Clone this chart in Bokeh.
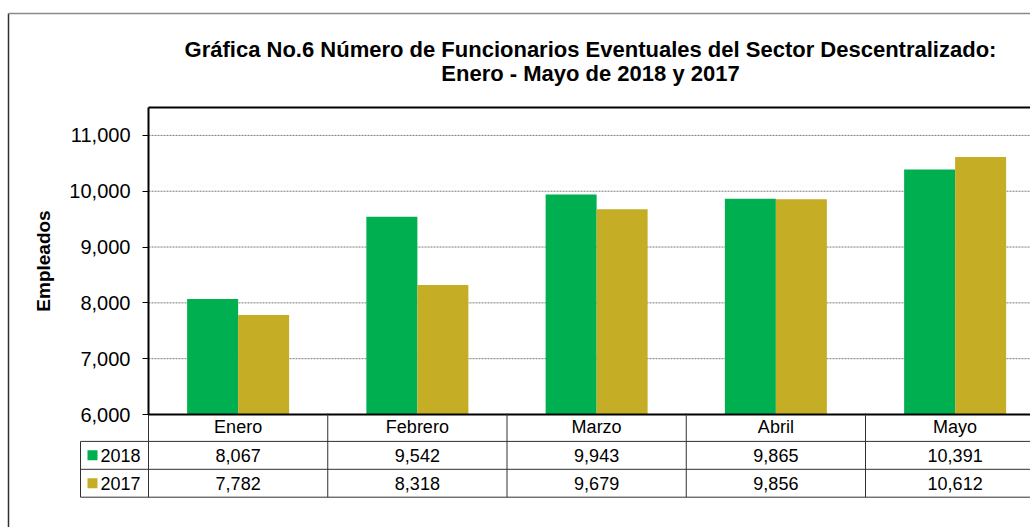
import numpy as np
from bokeh.plotting import figure
from bokeh.models import (Range1d, FixedTicker, NumeralTickFormatter, LinearAxis, Label)
from bokeh.embed import file_html
from bokeh.resources import INLINE
from bokeh.core.properties import value

# ---- data ----
months = ["Enero", "Febrero", "Marzo", "Abril", "Mayo"]
series_names = ["2018", "2017"]
values_2018 = [8067, 9542, 9943, 9865, 10391]
values_2017 = [7782, 8318, 9679, 9856, 10612]
y_ticks = [6000, 7000, 8000, 9000, 10000, 11000]
y_top = 11500
title_line1 = "Gráfica No.6 Número de Funcionarios Eventuales del Sector Descentralizado:"
title_line2 = "Enero - Mayo de 2018 y 2017"
y_label = "Empleados"

# ---- style / layout ----
GREEN = "#00B050"
GOLD = "#C5AD25"
FONT = "Liberation Sans"
W, H = 1030, 527
PLOT_LEFT = 148          # pixel x of value axis
CAT_PX = 179.25          # pixels per category
PLOT_TOP_PX, PLOT_BASE_PX = 107, 414
y_base = y_ticks[0]
PX_PER_UNIT = (PLOT_BASE_PX - PLOT_TOP_PX) / (y_top - y_base)


def px_x(px):
    return (px - PLOT_LEFT) / CAT_PX


def px_y(py):
    return y_base + (PLOT_BASE_PX - py) / PX_PER_UNIT


# table rows: boundaries 3 (top) .. 0 (bottom)
ROW_TOP_PX, ROW_PX = 413, 27.9


def px_row(py):
    return 3 - (py - ROW_TOP_PX) / ROW_PX


x_start, x_end = px_x(0), px_x(W)

p = figure(width=W, height=H, x_range=Range1d(x_start, x_end), y_range=Range1d(px_y(H), px_y(0)),
           output_backend="svg", toolbar_location=None, x_axis_location=None, y_axis_location=None,
           min_border=0, outline_line_color=None)
p.extra_y_ranges = {"table": Range1d(px_row(H), px_row(0))}
p.grid.visible = False

n = len(months)
idx = np.arange(n)
bar_w = 0.2845
x18 = idx + 0.5 - bar_w / 2
x17 = idx + 0.5 + bar_w / 2

# gridlines (dotted) at tick values
grid_vals = y_ticks[1:]
p.segment(x0=[0] * len(grid_vals), y0=grid_vals, x1=[x_end] * len(grid_vals), y1=grid_vals,
          line_color="#7a7a7a", line_dash="2 1", line_width=1)

# bars
p.vbar(x=x18, top=values_2018, bottom=y_base, width=bar_w, fill_color=GREEN, line_color=None)
p.vbar(x=x17, top=values_2017, bottom=y_base, width=bar_w, fill_color=GOLD, line_color=None)

# plot-area frame (top and baseline), heavy
p.segment(x0=[0, 0], y0=[y_top, y_base], x1=[x_end, x_end], y1=[y_top, y_base],
          line_color="#000000", line_width=2)

# value axis
ax = LinearAxis(fixed_location=0, bounds=(y_base, y_top))
ax.ticker = FixedTicker(ticks=y_ticks)
ax.formatter = NumeralTickFormatter(format="0,0")
ax.major_label_text_font = FONT
ax.major_label_text_font_size = "20px"
ax.major_label_text_color = "#000000"
ax.major_tick_out = 6
ax.major_tick_in = 0
ax.minor_tick_line_color = None
ax.axis_line_width = 2
ax.axis_line_color = "#000000"
ax.major_tick_line_color = "#000000"
ax.major_label_standoff = 12
ax.axis_label = y_label
ax.axis_label_text_font = FONT
ax.axis_label_text_font_size = "19px"
ax.axis_label_text_font_style = "bold"
ax.axis_label_text_color = "#000000"
ax.axis_label_standoff = 12
p.add_layout(ax, "left")

# title
for txt, py in [(title_line1, 49), (title_line2, 73)]:
    p.add_layout(Label(x=px_x(590), y=px_y(py), text=txt, text_font=FONT, text_font_size="22px",
                       text_font_style="bold", text_align="center", text_baseline="middle",
                       text_color="#000000"))

# outer chart border
p.segment(x0=[px_x(8), px_x(8)], y0=[px_y(13), px_y(13)], x1=[px_x(8), x_end], y1=[px_y(H), px_y(13)],
          line_color=["#303030", "#8a8a8a"], line_width=1.5)

# ---- data table ----
leg_left = px_x(80)
LINE = "#303030"
T = "table"
p.segment(x0=[leg_left] * 3, y0=[2, 1, 0], x1=[n] * 3, y1=[2, 1, 0], line_color=LINE,
          line_width=1, y_range_name=T)
p.segment(x0=list(range(n + 1)), y0=[0] * (n + 1), x1=list(range(n + 1)), y1=[3] * (n + 1),
          line_color=LINE, line_width=1, y_range_name=T)
p.segment(x0=[leg_left], y0=[0], x1=[leg_left], y1=[2], line_color=LINE, line_width=1, y_range_name=T)

txt_kw = dict(text_font=value(FONT), text_font_size="18px", text_baseline="middle",
              text_color="#000000", y_range_name=T)
p.text(x=idx + 0.5, y=[2.5] * n, text=months, text_align="center", **txt_kw)
p.text(x=idx + 0.5, y=[1.5] * n, text=[f"{v:,}" for v in values_2018], text_align="center", **txt_kw)
p.text(x=idx + 0.5, y=[0.5] * n, text=[f"{v:,}" for v in values_2017], text_align="center", **txt_kw)
p.scatter(x=[px_x(92)] * 2, y=[1.5, 0.5], marker="square", size=10,
          fill_color=[GREEN, GOLD], line_color=None, y_range_name=T)
p.text(x=[px_x(100)] * 2, y=[1.5, 0.5], text=series_names, text_align="left", **txt_kw)

open("out.html", "w").write(file_html(p, INLINE))
